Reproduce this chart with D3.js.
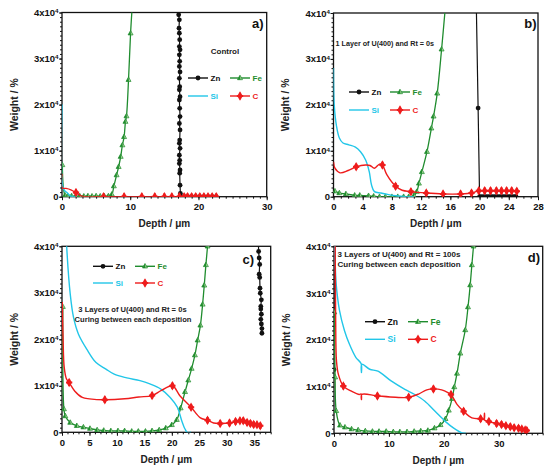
<!DOCTYPE html>
<html>
<head>
<meta charset="utf-8">
<script src="https://cdn.jsdelivr.net/npm/d3@7"></script>
<style>
  body { margin: 0; background: #fff; }
  svg { display: block; font-family: "Liberation Sans", Arial, sans-serif; font-weight: bold; }
</style>
</head>
<body>
<div id="chart"></div>
<script>
// ---- data (depth in µm, weight as plotted) ----
var yTicks = [0, 10000, 20000, 30000, 40000];

// a) Control
var znA = [[17.1, 45000], [17.1, 39500], [17.2, 38400], [17.15, 36600], [17.2, 35500], [17.25, 34100], [17.2, 32600], [17.3, 31900], [17.2, 30800], [17.25, 29400], [17.2, 28300], [17.3, 27100], [17.2, 25700], [17.25, 23900], [17.2, 23200], [17.3, 21700], [17.2, 21000], [17.25, 19200], [17.3, 17400], [17.2, 15900], [17.3, 14500], [17.25, 12300], [17.2, 11600], [17.3, 10500], [17.2, 9000], [17.25, 7900], [17.2, 7200], [17.3, 5800], [17.25, 5100], [17.3, 2500], [17.35, 700], [17.4, 0], [17.9, 0], [18.4, 0], [19.0, 0], [19.6, 0], [20.2, 0], [20.8, 0], [21.4, 0], [22.0, 0], [22.6, 0]];
var feA = [[0.05, 6900], [0.45, 300], [0.8, 100], [1.4, 150], [2.0, 100], [2.6, 150], [3.2, 100], [3.8, 150], [4.4, 100], [5.0, 150], [5.6, 100], [6.2, 100], [6.8, 150], [7.3, 500], [7.6, 2300], [8.0, 4700], [8.3, 6500], [8.6, 8700], [8.85, 11200], [9.1, 13000], [9.3, 16300], [9.45, 17500], [9.75, 25400], [10.05, 35500], [10.3, 41500]];
var siA = [[0, 20000], [0.03, 3000], [0.3, 1500], [0.8, 800], [1.3, 100], [2.0, 0]];
var cA = [[0, 5000], [0.05, 1900], [0.6, 1800], [1.3, 1500], [2.05, 900], [2.8, 200], [3.5, 0], [6.1, 0], [9.1, 0], [11.7, 0], [13.6, 0], [15.0, 0], [16.1, 0], [17.2, 0], [17.9, 0], [18.4, 0], [19.0, 0], [19.6, 0], [20.2, 0], [20.8, 0], [21.4, 0], [22.0, 0], [22.6, 0]];
var cDotsA = [[2.05, 900], [6.1, 0], [9.1, 0], [11.7, 0], [13.6, 0], [15.0, 0], [16.1, 0], [17.2, 0], [17.9, 0], [18.4, 0], [19.0, 0], [19.6, 0], [20.2, 0], [20.8, 0], [21.4, 0], [22.0, 0], [22.6, 0]];

// b) 1 layer, Rt = 0s
var znB = [[19.55, 42000], [19.8, 19300], [20.0, 0], [20.3, 0], [20.6, 0], [20.9, 0], [21.2, 0], [21.5, 0], [21.8, 0], [22.1, 0], [22.4, 0], [22.7, 0], [23.0, 0], [23.3, 0], [23.6, 0], [23.9, 0], [24.2, 0], [24.5, 0], [24.8, 0], [25.0, 0]];
var feB = [[0.2, 1200], [0.8, 800], [1.7, 600], [2.9, 300], [3.6, 300], [4.8, 200], [5.5, 100], [6.3, 0], [7.1, 0], [8.0, 0], [8.8, 0], [9.6, 0], [10.3, 0], [11.0, 200], [11.4, 1100], [11.7, 2900], [12.1, 5400], [12.8, 9800], [13.4, 14900], [13.7, 17500], [14.2, 22500], [14.8, 32100], [15.3, 41000]];
var siB = [[0, 28000], [0.1, 20000], [0.4, 15500], [0.8, 12800], [1.3, 11700], [2.1, 11300], [3.0, 10800], [3.7, 9800], [4.4, 8000], [4.9, 5400], [5.2, 2600], [5.6, 1100], [6.5, 800], [7.4, 500], [8.5, 200], [10.0, 0], [11.0, 0]];
var cB = [[0, 7600], [0.2, 6200], [0.9, 5200], [2.0, 5700], [3.1, 6500], [4.4, 6900], [5.0, 6800], [5.6, 6200], [6.3, 7100], [6.7, 6900], [7.3, 4800], [8.5, 2300], [9.4, 1400], [10.6, 1100], [12.7, 800], [15.0, 600], [17.4, 600], [18.9, 800], [19.9, 1300], [20.7, 1300], [21.5, 1300], [22.3, 1300], [23.0, 1300], [23.7, 1300], [24.4, 1300], [25.1, 1200]];
var cDotsB = [[3.1, 6500], [6.7, 6900], [8.5, 2300], [10.6, 1100], [12.7, 800], [15.0, 600], [17.4, 600], [18.9, 800], [19.9, 1300], [20.7, 1300], [21.5, 1300], [22.3, 1300], [23.0, 1300], [23.7, 1300], [24.4, 1300], [25.1, 1200]];

// c) 3 layers, Rt = 0s
var znC = [[35.7, 45000], [35.8, 38900], [35.9, 37500], [36.0, 36100], [35.9, 34000], [36.0, 33300], [36.05, 31000], [36.1, 29900], [36.3, 28500], [36.2, 27100], [36.2, 26500], [36.3, 25400], [36.2, 24300], [36.3, 23300], [36.4, 22300], [36.4, 21300]];
var feC = [[0.15, 27000], [0.35, 5000], [0.6, 3500], [1.5, 2100], [2.7, 1400], [3.9, 1100], [5.1, 800], [6.4, 500], [7.6, 400], [8.9, 300], [10.2, 300], [11.4, 300], [12.7, 200], [13.9, 200], [15.2, 200], [16.4, 300], [17.7, 500], [18.9, 900], [20.0, 1600], [20.9, 2700], [21.6, 5200], [22.4, 8700], [23.0, 11200], [23.6, 13700], [24.2, 16600], [24.7, 19800], [25.2, 23000], [25.6, 27500], [25.9, 31600], [26.2, 36000], [26.5, 40000], [26.7, 43000]];
var siC = [[0.6, 48000], [0.85, 40000], [1.5, 29700], [2.1, 24700], [3.0, 21100], [4.5, 17900], [6.2, 15000], [8.0, 13600], [9.5, 12500], [11.8, 11700], [14.2, 11100], [16.0, 10400], [18.0, 9300], [19.7, 7500], [21.0, 5400], [21.8, 2500], [22.4, 700], [22.8, 0], [23.5, 0]];
var cC = [[0.05, 28000], [0.2, 20000], [0.4, 14000], [0.8, 11500], [1.3, 10700], [2.3, 8900], [3.7, 7500], [5.0, 7200], [7.8, 7000], [11.4, 7200], [14.0, 7600], [16.4, 7900], [18.1, 9000], [20.1, 10000], [21.5, 7800], [23.5, 5400], [25.2, 3100], [26.5, 2600], [27.6, 2000], [28.8, 1900], [30.5, 2000], [31.6, 2300], [32.4, 2500], [33.0, 2500], [33.7, 2100], [34.3, 1900], [34.9, 1700], [35.5, 1600], [36.1, 1400]];
var cDotsC = [[1.3, 10700], [7.8, 7000], [16.4, 7900], [20.1, 10000], [23.5, 5400], [26.5, 2600], [28.8, 1900], [30.5, 2000], [31.6, 2300], [32.4, 2500], [33.0, 2500], [33.7, 2100], [34.3, 1900], [34.9, 1700], [35.5, 1600], [36.1, 1400]];

// d) 3 layers, Rt = 100s
var znD = [[0, 45000], [0, 13600]];
var feD = [[0.05, 25900], [0.2, 12000], [0.4, 4800], [1.1, 1700], [2.0, 1300], [3.2, 900], [4.4, 700], [5.7, 500], [7.0, 400], [8.2, 400], [9.5, 400], [10.8, 300], [12.0, 300], [13.3, 300], [14.6, 400], [15.8, 500], [17.1, 600], [18.3, 1100], [19.4, 1800], [20.3, 3100], [20.9, 4900], [21.5, 7400], [21.9, 9900], [22.4, 12800], [23.0, 17100], [23.9, 22100], [24.4, 27000], [24.8, 31700], [25.1, 36000], [25.4, 40000], [25.6, 43000]];
var siD = [[0.05, 48000], [0.15, 40000], [0.4, 31900], [1.0, 26300], [1.9, 22000], [2.8, 19100], [4.0, 16200], [4.95, 14900], [5.0, 13000], [5.05, 14800], [6.5, 13700], [8.0, 13300], [10.4, 11200], [12.9, 9400], [14.7, 8300], [16.5, 6900], [18.4, 4700], [20.3, 2500], [21.8, 1100], [23.3, 100], [24.0, 0]];
var cD = [[0.2, 45000], [0.3, 25000], [0.45, 15500], [0.8, 12600], [1.7, 10100], [3.2, 9000], [4.6, 8300], [4.95, 8400], [5.0, 7200], [5.05, 8300], [7.9, 8000], [11.2, 7700], [13.6, 7700], [15.4, 8400], [16.9, 9300], [18.1, 9500], [19.6, 9300], [20.9, 8600], [21.3, 8300], [22.4, 6200], [23.6, 4700], [25.1, 3300], [26.7, 3100], [27.35, 3000], [27.4, 4300], [27.45, 2800], [28.2, 2500], [29.6, 2100], [30.5, 1900], [31.3, 1600], [32.1, 1400], [32.8, 1200], [33.6, 1100], [34.2, 900], [34.8, 700], [35.1, 600]];
var cDotsD = [[1.7, 10100], [7.9, 8000], [13.6, 7700], [18.1, 9500], [21.3, 8300], [23.6, 4700], [26.7, 3100], [28.2, 2500], [29.6, 2100], [30.5, 1900], [31.3, 1600], [32.1, 1400], [32.8, 1200], [33.6, 1100], [34.2, 900], [34.8, 700], [35.1, 600]];

var COL = { zn: '#111', fe: '#1f8c2e', si: '#22c6e8', c: '#ee1c1c' };

// panel boxes: [left, right, top, bottom]
var panels = [
  { id: 'a', box: [62, 266.7, 12.5, 196.7], xMax: 30, xTicks: [0, 10, 20, 30],
    zn: znA, fe: feA, si: siA, c: cA, cDots: cDotsA,
    leg: { x1: 188, x2: 230, y1: 78, y2: 96, fs: 8 },
    notes: [{ t: 'Control', x: 225, y: 54, fs: 8, anchor: 'middle' }],
    letter: { t: 'a)', x: 263.5, y: 27.5 } },
  { id: 'b', box: [333.5, 538, 13, 196.7], xMax: 28, xTicks: [0, 4, 8, 12, 16, 20, 24, 28],
    zn: znB, fe: feB, si: siB, c: cB, cDots: cDotsB,
    leg: { x1: 349, x2: 390, y1: 92, y2: 110, fs: 8 },
    notes: [{ t: '1 Layer of U(400) and Rt = 0s', x: 335.5, y: 46, fs: 7.2, anchor: 'start' }],
    letter: { t: 'b)', x: 536.5, y: 28 } },
  { id: 'c', box: [62, 270.7, 246.3, 432.3], xMax: 38, xTicks: [0, 5, 10, 15, 20, 25, 30, 35],
    zn: znC, fe: feC, si: siC, c: cC, cDots: cDotsC,
    leg: { x1: 93, x2: 135, y1: 266.3, y2: 283, fs: 8 },
    notes: [{ t: '3 Layers of U(400) and Rt = 0s', x: 132.5, y: 312, fs: 7.6, anchor: 'middle' },
            { t: 'Curing between each deposition', x: 133, y: 321.5, fs: 7.6, anchor: 'middle' }],
    letter: { t: 'c)', x: 254, y: 264 } },
  { id: 'd', box: [334, 542.7, 246.3, 433.3], xMax: 38, xTicks: [0, 10, 20, 30],
    zn: znD, fe: feD, si: siD, c: cD, cDots: cDotsD,
    leg: { x1: 365, x2: 408, y1: 321.7, y2: 339.3, fs: 8.5 },
    notes: [{ t: '3 Layers of U(400) and Rt = 100s', x: 337.5, y: 256.5, fs: 8, anchor: 'start' },
            { t: 'Curing between each deposition', x: 337.5, y: 266.5, fs: 8, anchor: 'start' }],
    letter: { t: 'd)', x: 540, y: 262 } }
];

var svg = d3.select('#chart').append('svg')
  .attr('width', 550)
  .attr('height', 468);

var feMarker = function (sel) {
  // half-filled up triangle, dark half on the left
  sel.append('path').attr('d', 'M0,-2.8L2.5,1.7L-2.5,1.7Z')
    .attr('fill', '#a9d69a').attr('stroke', COL.fe).attr('stroke-width', 0.7);
  sel.append('path').attr('d', 'M0,-2.8L0.4,1.7L-2.5,1.7Z').attr('fill', COL.fe);
};
var cMarker = function (sel) {
  sel.append('path').attr('d', d3.symbol(d3.symbolDiamond, 26)()).attr('fill', COL.c);
  sel.append('path').attr('d', d3.symbol(d3.symbolCross, 22)()).attr('fill', COL.c);
};

panels.forEach(function (p) {
  var L = p.box[0], R = p.box[1], T = p.box[2], B = p.box[3];
  var x = d3.scaleLinear().domain([0, p.xMax]).range([L, R]);
  var y = d3.scaleLinear().domain([0, 40000]).range([B, T]);
  var g = svg.append('g').attr('class', 'panel-' + p.id);

  g.append('clipPath').attr('id', 'clip-' + p.id)
    .append('rect').attr('x', L).attr('y', T).attr('width', R - L).attr('height', B - T);

  // minor ticks
  g.append('g').attr('transform', 'translate(0,' + B + ')')
    .call(d3.axisBottom(x).tickValues(d3.range(0, p.xMax + 0.01, 1)).tickSize(2).tickFormat(''))
  g.append('g').attr('transform', 'translate(' + L + ',0)')
    .call(d3.axisLeft(y).tickValues(d3.range(0, 40001, 1000)).tickSize(2).tickFormat(''))

  // major ticks + labels
  g.append('g').attr('transform', 'translate(0,' + B + ')')
    .call(d3.axisBottom(x).tickValues(p.xTicks).tickSize(3.5).tickPadding(3.5))
    .selectAll('text').style('font-size', '9.5px').style('font-weight', 'bold').attr('fill', '#111');
  var yl = g.append('g').attr('transform', 'translate(' + L + ',0)')
    .call(d3.axisLeft(y).tickValues(yTicks).tickSize(3).tickPadding(0.5).tickFormat(''));
  yl.selectAll('.tick text').each(function (d) {
    var t = d3.select(this).style('font-size', '9.5px').style('font-weight', 'bold').attr('fill', '#111');
    if (d === 0) { t.text('0'); return; }
    t.append('tspan').text((d / 10000) + 'x10');
    t.append('tspan').attr('dy', '-0.45em').style('font-size', '6.2px').text('4');
  });
  g.selectAll('.domain').remove();
  g.selectAll('.tick line').attr('stroke', '#111').attr('stroke-width', 1);

  // frame
  g.append('rect').attr('x', L).attr('y', T).attr('width', R - L).attr('height', B - T)
    .attr('fill', 'none').attr('stroke', '#111').attr('stroke-width', 1.3);

  // axis titles
  g.append('text').attr('x', (L + R) / 2).attr('y', B + 30.5)
    .attr('text-anchor', 'middle').style('font-size', '10px').attr('fill', '#222')
    .text('Depth / \u03bcm');
  g.append('text').attr('transform', 'translate(' + (L - 44.5) + ',' + ((T + B) / 2) + ') rotate(-90)')
    .attr('text-anchor', 'middle').style('font-size', '10.5px').attr('fill', '#222')
    .text('Weight / %');

  // data
  var plot = g.append('g').attr('clip-path', 'url(#clip-' + p.id + ')');
  var straight = d3.line().x(function (d) { return x(d[0]); }).y(function (d) { return y(d[1]); });
  var smooth = d3.line().curve(d3.curveCatmullRom.alpha(0.5))
    .x(function (d) { return x(d[0]); }).y(function (d) { return y(d[1]); });

  plot.append('path').attr('d', straight(p.zn)).attr('fill', 'none').attr('stroke', COL.zn).attr('stroke-width', 1.2);
  plot.selectAll('circle.zn').data(p.zn).enter().append('circle').attr('class', 'zn')
    .attr('cx', function (d) { return x(d[0]); }).attr('cy', function (d) { return y(d[1]); })
    .attr('r', 2.4).attr('fill', COL.zn);

  plot.append('path').attr('d', smooth(p.fe)).attr('fill', 'none').attr('stroke', COL.fe).attr('stroke-width', 1.3);
  plot.selectAll('g.fe').data(p.fe).enter().append('g').attr('class', 'fe')
    .attr('transform', function (d) { return 'translate(' + x(d[0]) + ',' + y(d[1]) + ')'; })
    .call(feMarker);

  plot.append('path').attr('d', smooth(p.si)).attr('fill', 'none').attr('stroke', COL.si).attr('stroke-width', 1.4);

  plot.append('path').attr('d', smooth(p.c)).attr('fill', 'none').attr('stroke', COL.c).attr('stroke-width', 1.4);
  plot.selectAll('g.cm').data(p.cDots).enter().append('g').attr('class', 'cm')
    .attr('transform', function (d) { return 'translate(' + x(d[0]) + ',' + y(d[1]) + ')'; })
    .call(cMarker);

  // legend
  var lg = p.leg, len = 20;
  var rows = [
    { name: 'Zn', col: COL.zn, x0: lg.x1, y0: lg.y1 },
    { name: 'Fe', col: COL.fe, x0: lg.x2, y0: lg.y1 },
    { name: 'Si', col: COL.si, x0: lg.x1, y0: lg.y2 },
    { name: 'C', col: COL.c, x0: lg.x2, y0: lg.y2 }
  ];
  rows.forEach(function (r) {
    var e = g.append('g');
    e.append('line').attr('x1', r.x0).attr('x2', r.x0 + len).attr('y1', r.y0).attr('y2', r.y0)
      .attr('stroke', r.col).attr('stroke-width', 1.4);
    var m = e.append('g').attr('transform', 'translate(' + (r.x0 + len / 2) + ',' + r.y0 + ')');
    if (r.name === 'Zn') m.append('circle').attr('r', 2.4).attr('fill', COL.zn);
    if (r.name === 'Fe') m.call(feMarker);
    if (r.name === 'C') m.call(cMarker);
    e.append('text').attr('x', r.x0 + len + 2.5).attr('y', r.y0).attr('dy', '0.35em')
      .style('font-size', lg.fs + 'px').attr('fill', r.col).text(r.name);
  });

  p.notes.forEach(function (n) {
    g.append('text').attr('x', n.x).attr('y', n.y).attr('text-anchor', n.anchor)
      .style('font-size', n.fs + 'px').attr('fill', '#222').text(n.t);
  });

  g.append('text').attr('x', p.letter.x).attr('y', p.letter.y).attr('text-anchor', 'end')
    .style('font-size', '13px').attr('fill', '#111').text(p.letter.t);
});
</script>
</body>
</html>
